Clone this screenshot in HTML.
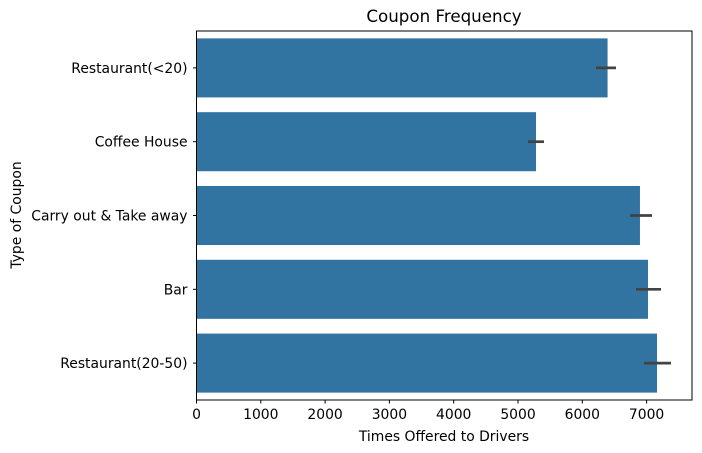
<!DOCTYPE html>
<html><head><meta charset="utf-8"><style>
body{margin:0;background:#fff;}
svg{display:block;font-family:"DejaVu Sans","Liberation Sans",sans-serif;}
</style></head><body>
<svg id="chart" width="702" height="453" xmlns="http://www.w3.org/2000/svg">
<text x="444" y="22" font-size="16.7" text-anchor="middle">Coupon Frequency</text>
<text x="444" y="441" font-size="13.9" text-anchor="middle">Times Offered to Drivers</text>
<text transform="translate(21,215) rotate(-90)" font-size="13.9" text-anchor="middle">Type of Coupon</text>
<g id="bars"></g>
<g id="xticks"></g>
<g id="yticks"></g>
<rect x="196.5" y="31" width="495.5" height="369" fill="none" stroke="#000" stroke-width="1"/>
</svg>
<script>
const categories=["Restaurant(<20)","Coffee House","Carry out & Take away","Bar","Restaurant(20-50)"];
const values=[6393,5280,6897,7022,7162];
const errLow=[6213,5156,6742,6835,6960];
const errHigh=[6524,5404,7084,7224,7379];
const xTicks=[0,1000,2000,3000,4000,5000,6000,7000];
const L=196.5,T=31,B=400,pxPer=0.0643;
const sx=v=>L+v*pxPer;
const band=(B-T)/categories.length;
const sy=i=>T+band*(i+0.5);
const NS="http://www.w3.org/2000/svg";
function mk(t,a,p){const e=document.createElementNS(NS,t);for(const k in a)e.setAttribute(k,a[k]);p.appendChild(e);return e;}
const gb=document.getElementById('bars'),gx=document.getElementById('xticks'),gy=document.getElementById('yticks');
categories.forEach((c,i)=>{
 const h=band*0.8;
 const r=mk('rect',{x:sx(0),y:sy(i)-h/2,width:sx(values[i])-sx(0),height:h,fill:'#3274a1'},gb);
 
 
 const l=mk('line',{x1:sx(errLow[i]),x2:sx(errHigh[i]),y1:sy(i),y2:sy(i),stroke:'#424242','stroke-width':2.7},gb);
 
 
 mk('line',{x1:L-3.5,x2:L,y1:sy(i),y2:sy(i),stroke:'#000'},gy);
 const t=mk('text',{x:L-9,y:sy(i)+5,'font-size':13.9,'text-anchor':'end'},gy);
 t.textContent=c;
 
 
});
xTicks.forEach(v=>{
 mk('line',{x1:sx(v),x2:sx(v),y1:B,y2:B+3.5,stroke:'#000'},gx);
 const t=mk('text',{x:sx(v),y:B+19,'font-size':13.9,'text-anchor':'middle'},gx);
 t.textContent=v;
 
 
});
</script>
</body></html>
